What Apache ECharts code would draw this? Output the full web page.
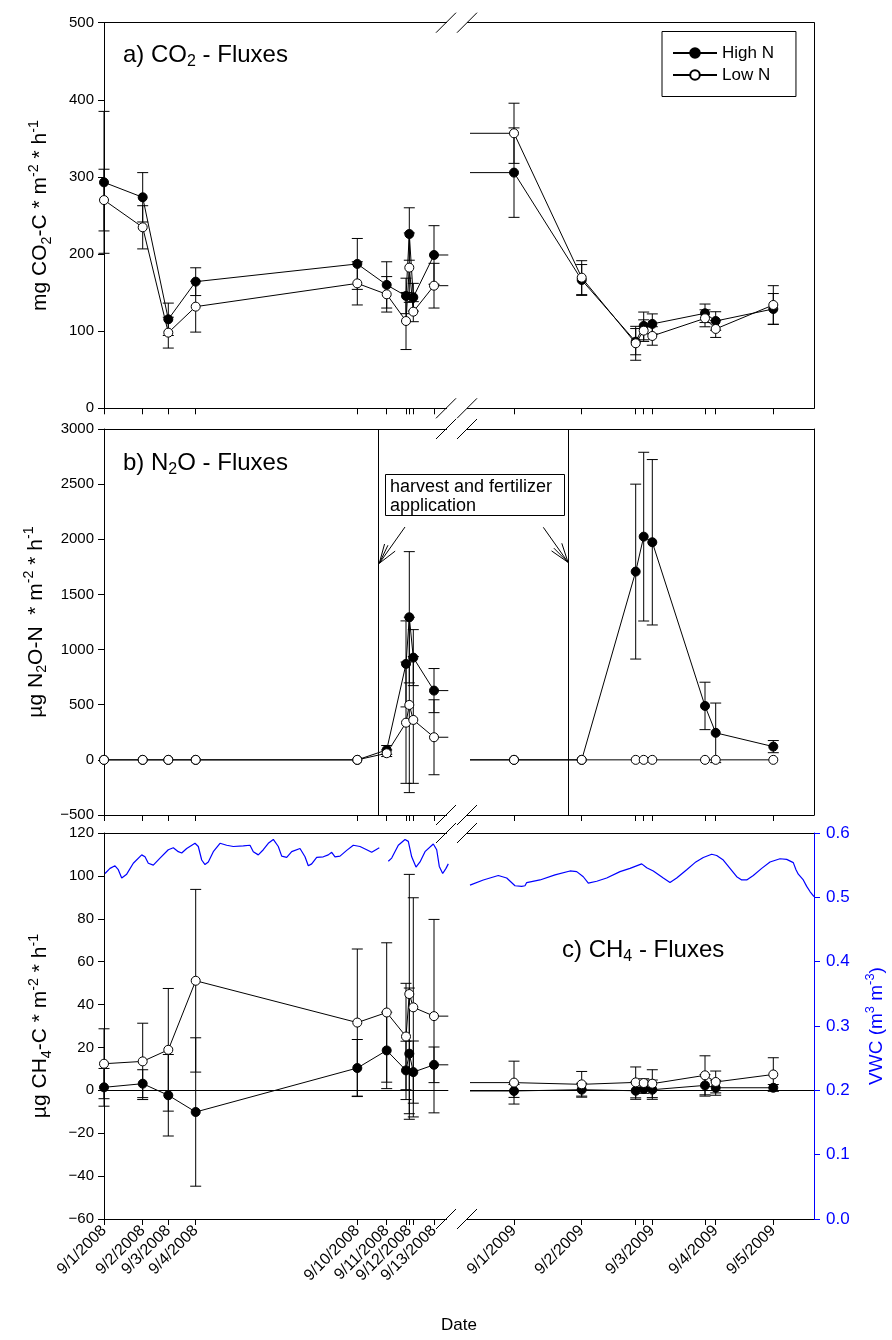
<!DOCTYPE html>
<html>
<head>
<meta charset="utf-8">
<script src="https://cdn.jsdelivr.net/npm/echarts@6/dist/echarts.min.js"></script>
<style>
  html, body { margin: 0; padding: 0; background: #fff; }
  #chart { width: 892px; height: 1340px; }
</style>
</head>
<body>
<div id="chart"></div>
<script>
// x positions on the (broken) date axis, 2008 block and 2009 block
const pos2008 = [0, 38.7, 64.3, 91.7, 253.3, 282.7, 302, 305.3, 309.3, 330];
const pos2009 = [410, 477.7, 531.7, 539.7, 548.3, 601, 611.7, 669.3];
const breakLeft = 344.3;   // where the 2008 block is cut
const breakRight = 366;    // where the 2009 block starts
const dateLabels = ['9/1/2008', '9/2/2008', '9/3/2008', '9/4/2008', '9/10/2008', '9/11/2008', '9/12/2008', '9/13/2008',
                    '9/1/2009', '9/2/2009', '9/3/2009', '9/4/2009', '9/5/2009'];
const labelPos = [0, 38.7, 64.3, 91.7, 253.3, 282.7, 305.3, 330, 410, 477.7, 548.3, 611.7, 669.3];
const harvestPos = [274.7, 464.7];

// a) CO2
const co2High2008 = [293, 273.6, 115.4, 164.2, 187.2, 160, 145.7, 226, 144, 198.8];
const co2HighErr2008 = [92, 32, 21, 18, 33, 30, 23, 34, 18, 38];
const co2Low2008 = [270, 234.7, 98.1, 131.8, 162, 147.8, 113.2, 182.4, 125.3, 159];
const co2LowErr2008 = [40, 28, 20, 33, 28, 23, 37, 45, 13, 29];
const co2High2009 = [305.6, 166.4, 86.4, 106.8, 109.4, 123.2, 113.2, 128.8];
const co2HighErr2009 = [58, 20, 17, 18, 13, 12, 12, 20];
const co2Low2009 = [356.6, 169.4, 84.3, 100.7, 93.8, 116.7, 102.9, 134];
const co2LowErr2009 = [39, 22, 22, 14, 12, 11, 11, 25];

// b) N2O
const n2oHigh2008 = [0, 0, 0, 0, 0, 90, 870, 1293, 927, 628];
const n2oHighErr2008 = [0, 0, 0, 0, 0, 40, 390, 595, 254, 200];
const n2oLow2008 = [0, 0, 0, 0, 0, 60, 337, 498, 362, 205];
const n2oLowErr2008 = [0, 0, 0, 0, 0, 30, 550, 795, 575, 340];
const n2oHigh2009 = [0, 0, 1707, 2024, 1973, 489, 245, 120];
const n2oHighErr2009 = [0, 0, 793, 765, 750, 215, 270, 55];
const n2oLow2009 = [0, 0, 0, 0, 0, 0, 0, 0];
const n2oLowErr2009 = [0, 0, 0, 0, 0, 0, 0, 0];

// c) CH4
const ch4High2008 = [1.4, 3.1, -2.3, -10.1, 10.4, 18.6, 9.3, 17.1, 8.5, 11.9];
const ch4HighErr2008 = [8.8, 6.5, 19, 34.6, 13.3, 17.8, 13.6, 30.6, 14.5, 8.3];
const ch4Low2008 = [12.4, 13.5, 18.9, 51.1, 31.6, 36.3, 25.1, 44.9, 38.7, 34.6];
const ch4LowErr2008 = [16.3, 17.8, 28.6, 42.6, 34.3, 32.5, 24.8, 55.8, 51.1, 45.1];
const ch4High2009 = [-0.3, 0.3, -0.2, 0.6, 0.3, 2.3, 1.2, 1.2];
const ch4HighErr2009 = [3, 3, 4, 2, 4.5, 5, 3.5, 1.5];
const ch4Low2009 = [3.6, 2.8, 3.7, 3.4, 3.1, 7, 3.9, 7.4];
const ch4LowErr2009 = [10, 6, 7.2, 2, 6.5, 9.1, 5.1, 7.8];

// soil water content (right axis of panel c)
const vwcPos2008a = [1, 6, 11, 14.3, 17.7, 22.7, 29.3, 37.7, 41, 44.3, 49.3, 56, 64.3, 69.3, 74.3, 77.7, 82.7, 91, 94.3, 97.7,
  101, 104.3, 109.3, 116, 122.7, 129.3, 139.3, 146, 149.3, 154.3, 159.3, 164.3, 169.3, 174.3, 177.7, 182.7, 187.7, 196, 201,
  204.3, 207.7, 212.7, 219.3, 224.3, 227.7, 231, 236, 242.7, 249.3, 256, 262.7, 267.7, 275.3];
const vwc2008a = [0.537, 0.545, 0.549, 0.543, 0.530, 0.536, 0.553, 0.566, 0.563, 0.553, 0.550, 0.561, 0.574, 0.577, 0.571,
  0.569, 0.576, 0.584, 0.579, 0.558, 0.551, 0.555, 0.571, 0.584, 0.581, 0.579, 0.580, 0.581, 0.571, 0.566, 0.574, 0.584,
  0.590, 0.579, 0.564, 0.562, 0.571, 0.576, 0.563, 0.549, 0.552, 0.562, 0.563, 0.566, 0.570, 0.563, 0.564, 0.573, 0.581,
  0.579, 0.574, 0.570, 0.577];
const vwcPos2008b = [284.3, 287.7, 294.3, 301, 304.3, 307.7, 312, 316, 321, 329.3, 332.7, 335.3, 338.7, 342, 344.3];
const vwc2008b = [0.556, 0.561, 0.581, 0.590, 0.587, 0.563, 0.547, 0.555, 0.571, 0.583, 0.574, 0.548, 0.537, 0.545, 0.552];
const vwcPos2009 = [366, 379.3, 394.3, 402.7, 411, 417.7, 421, 422.7, 436, 451, 466, 472.7, 479.3, 484.3, 492.7, 502.7, 516,
  526, 537.7, 542.7, 549.3, 559.3, 566, 572.7, 582.7, 591, 599.3, 607.7, 612.7, 619.3, 626, 632.7, 637.7, 642.7, 649.3,
  657.7, 666, 676, 682.7, 689.3, 692, 694.3, 699.3, 702.7, 706, 710];
const vwc2009 = [0.519, 0.527, 0.534, 0.530, 0.518, 0.517, 0.518, 0.523, 0.527, 0.535, 0.541, 0.540, 0.532, 0.522, 0.525,
  0.530, 0.540, 0.545, 0.552, 0.546, 0.541, 0.530, 0.523, 0.530, 0.543, 0.554, 0.562, 0.567, 0.565, 0.558, 0.545, 0.532,
  0.527, 0.527, 0.534, 0.545, 0.555, 0.560, 0.559, 0.554, 0.543, 0.536, 0.527, 0.517, 0.509, 0.501];

const F = '"Liberation Sans", Arial, sans-serif';
const tickPos = pos2008.concat(pos2009);
const X_MAX = 710;

const chart = echarts.init(document.getElementById('chart'));

const pts = (pos, vals) => pos.map((p, i) => [p, vals[i]]);
const errs = (pos, vals, err) => pos.map((p, i) => [p, vals[i], err[i]]).filter(d => d[2] > 0);
const minus = v => (v < 0 ? '\u2212' + String(-v) : String(v));

function errBar(params, api) {
  const x = api.value(0), y = api.value(1), e = api.value(2);
  const a = api.coord([x, y + e]), b = api.coord([x, y - e]);
  const w = 5.5;
  const st = { stroke: '#000', lineWidth: 1 };
  return {
    type: 'group',
    children: [
      { type: 'line', shape: { x1: a[0], y1: a[1], x2: b[0], y2: b[1] }, style: st },
      { type: 'line', shape: { x1: a[0] - w, y1: a[1], x2: a[0] + w, y2: a[1] }, style: st },
      { type: 'line', shape: { x1: b[0] - w, y1: b[1], x2: b[0] + w, y2: b[1] }, style: st }
    ]
  };
}

const nameRich = (color, fs) => ({
  n: { fontSize: fs, fontFamily: F, color: color, lineHeight: fs + 6, verticalAlign: 'middle' },
  sub: { fontSize: fs * 0.68, fontFamily: F, color: color, lineHeight: fs * 0.68, verticalAlign: 'bottom' },
  sup: { fontSize: fs * 0.68, fontFamily: F, color: color, lineHeight: fs * 0.68, verticalAlign: 'top' }
});

const gridBase = { left: 104, right: 78, containLabel: false, outerBoundsMode: 'none' };
const grids = [
  Object.assign({ top: 22.7, height: 385.6 }, gridBase),
  Object.assign({ top: 429, height: 386 }, gridBase),
  Object.assign({ top: 833, height: 386 }, gridBase)
];

const xAxes = [];
for (let i = 0; i < 3; i++) {
  xAxes.push({
    type: 'value', gridIndex: i, min: 0, max: X_MAX, position: 'bottom',
    axisLine: { show: true, onZero: false, lineStyle: { color: '#000', width: 1 } },
    axisTick: { show: true, customValues: tickPos, length: 6, lineStyle: { color: '#000' } },
    axisLabel: i === 2 ? {
      show: true, customValues: labelPos, rotate: 45, fontSize: 16, fontFamily: F, color: '#000', margin: 9,
      formatter: v => {
        const k = labelPos.findIndex(p => Math.abs(p - v) < 0.01);
        return k >= 0 ? dateLabels[k] : '';
      }
    } : { show: false },
    splitLine: { show: false },
    name: i === 2 ? 'Date' : '', nameLocation: 'middle', nameGap: 98,
    nameTextStyle: { fontSize: 17, fontFamily: F, color: '#000' }
  });
  xAxes.push({
    type: 'value', gridIndex: i, min: 0, max: X_MAX, position: 'top',
    axisLine: { show: true, onZero: false, lineStyle: { color: '#000', width: 1 } },
    axisTick: { show: false }, axisLabel: { show: false }, splitLine: { show: false }
  });
}

const leftAxis = (i, min, max, interval, name) => ({
  type: 'value', gridIndex: i, min: min, max: max, interval: interval, position: 'left',
  axisLine: { show: true, onZero: false, lineStyle: { color: '#000', width: 1 } },
  axisTick: { show: true, length: 6, lineStyle: { color: '#000' } },
  axisLabel: { fontSize: 15, fontFamily: F, color: '#000', margin: 10, formatter: minus },
  splitLine: { show: false },
  name: name, nameLocation: 'middle', nameRotate: 90, nameGap: 50,
  nameTextStyle: { rich: nameRich('#000', 21) }
});
const rightFrame = (i, min, max) => ({
  type: 'value', gridIndex: i, min: min, max: max, position: 'right',
  axisLine: { show: true, onZero: false, lineStyle: { color: '#000', width: 1 } },
  axisTick: { show: false }, axisLabel: { show: false }, splitLine: { show: false }
});

const yAxes = [
  leftAxis(0, 0, 500, 100, '{n|mg CO}{sub|2}{n|-C * m}{sup|-2}{n| * h}{sup|-1}'),
  rightFrame(0, 0, 500),
  leftAxis(1, -500, 3000, 500, '{n|µg N}{sub|2}{n|O-N  * m}{sup|-2}{n| * h}{sup|-1}'),
  rightFrame(1, -500, 3000),
  leftAxis(2, -60, 120, 20, '{n|µg CH}{sub|4}{n|-C * m}{sup|-2}{n| * h}{sup|-1}'),
  {
    type: 'value', gridIndex: 2, min: 0, max: 0.6, interval: 0.1, position: 'right',
    axisLine: { show: true, onZero: false, lineStyle: { color: '#0000ff', width: 1 } },
    axisTick: { show: true, length: 6, lineStyle: { color: '#0000ff' } },
    axisLabel: { fontSize: 17, fontFamily: F, color: '#0000ff', margin: 12, formatter: v => v.toFixed(1) },
    splitLine: { show: false },
    name: '{n|VWC (m}{sup|3}{n| m}{sup|-3}{n|)}', nameLocation: 'middle', nameRotate: 90, nameGap: 50,
    nameTextStyle: { rich: nameRich('#0000ff', 19) }
  }
];

const highStyle = {
  type: 'line', name: 'High N', symbol: 'circle', symbolSize: 9, showAllSymbol: true,
  lineStyle: { color: '#000', width: 1 }, itemStyle: { color: '#000', borderColor: '#000', borderWidth: 1 },
  z: 3, animation: false
};
const lowStyle = {
  type: 'line', name: 'Low N', symbol: 'circle', symbolSize: 9, showAllSymbol: true,
  lineStyle: { color: '#000', width: 1 }, itemStyle: { color: '#fff', borderColor: '#000', borderWidth: 1 },
  z: 4, animation: false
};
const zeroLine = (from, to) => ({
  silent: true, symbol: ['none', 'none'], label: { show: false },
  lineStyle: { color: '#000', width: 1, type: 'solid' },
  data: [[{ coord: [from, 0] }, { coord: [to, 0] }]]
});

const series = [];
const panels = [
  { hi8: co2High2008, he8: co2HighErr2008, lo8: co2Low2008, le8: co2LowErr2008,
    hi9: co2High2009, he9: co2HighErr2009, lo9: co2Low2009, le9: co2LowErr2009 },
  { hi8: n2oHigh2008, he8: n2oHighErr2008, lo8: n2oLow2008, le8: n2oLowErr2008,
    hi9: n2oHigh2009, he9: n2oHighErr2009, lo9: n2oLow2009, le9: n2oLowErr2009 },
  { hi8: ch4High2008, he8: ch4HighErr2008, lo8: ch4Low2008, le8: ch4LowErr2008,
    hi9: ch4High2009, he9: ch4HighErr2009, lo9: ch4Low2009, le9: ch4LowErr2009 }
];

panels.forEach((p, i) => {
  const ax = { xAxisIndex: i * 2, yAxisIndex: i * 2 };
  series.push(Object.assign({
    type: 'custom', name: 'err', renderItem: errBar, z: 2, silent: true, animation: false,
    encode: { x: 0, y: 1 },
    data: errs(pos2008, p.hi8, p.he8).concat(errs(pos2008, p.lo8, p.le8),
      errs(pos2009, p.hi9, p.he9), errs(pos2009, p.lo9, p.le9))
  }, ax));
  const last = a => a[a.length - 1];
  series.push(Object.assign({}, highStyle, ax, {
    data: pts(pos2008, p.hi8).concat([{ value: [breakLeft, last(p.hi8)], symbol: 'none' }]),
    markLine: i === 2 ? zeroLine(0, breakLeft) : (i === 1 ? {
      silent: true, symbol: ['none', 'none'], label: { show: false },
      lineStyle: { color: '#000', width: 1, type: 'solid' },
      data: harvestPos.map(h => ({ xAxis: h }))
    } : undefined)
  }));
  series.push(Object.assign({}, highStyle, ax, {
    data: [{ value: [breakRight, p.hi9[0]], symbol: 'none' }].concat(pts(pos2009, p.hi9)),
    markLine: i === 2 ? zeroLine(breakRight, X_MAX) : undefined
  }));
  series.push(Object.assign({}, lowStyle, ax, {
    data: pts(pos2008, p.lo8).concat([{ value: [breakLeft, last(p.lo8)], symbol: 'none' }])
  }));
  series.push(Object.assign({}, lowStyle, ax, {
    data: [{ value: [breakRight, p.lo9[0]], symbol: 'none' }].concat(pts(pos2009, p.lo9))
  }));
});

[[vwcPos2008a, vwc2008a], [vwcPos2008b, vwc2008b], [vwcPos2009, vwc2009]].forEach(([ps, vs]) => {
  series.push({
    type: 'line', name: 'VWC', xAxisIndex: 4, yAxisIndex: 5, data: pts(ps, vs),
    symbol: 'none', lineStyle: { color: '#0000ff', width: 1.2 }, z: 1, animation: false
  });
});

// annotation graphics: panel titles, harvest box, arrows, axis breaks
const titleRich = {
  n: { fontSize: 24, fontFamily: F, fill: '#000', lineHeight: 30, verticalAlign: 'middle' },
  sub: { fontSize: 16, fontFamily: F, fill: '#000', lineHeight: 16, verticalAlign: 'bottom' }
};
const graphics = [
  { type: 'text', x: 123, y: 55, z: 100, style: { text: '{n|a) CO}{sub|2}{n| - Fluxes}', rich: titleRich, verticalAlign: 'middle' } },
  { type: 'text', x: 123, y: 463, z: 100, style: { text: '{n|b) N}{sub|2}{n|O - Fluxes}', rich: titleRich, verticalAlign: 'middle' } },
  { type: 'text', x: 562, y: 950, z: 100, style: { text: '{n|c) CH}{sub|4}{n| - Fluxes}', rich: titleRich, verticalAlign: 'middle' } },
  { type: 'rect', z: 100, shape: { x: 385.5, y: 474.5, width: 179, height: 41 }, style: { fill: '#fff', stroke: '#000', lineWidth: 1 } },
  { type: 'text', x: 390, y: 487, z: 101, style: { text: 'harvest and fertilizer', font: '18px ' + F, fill: '#000', verticalAlign: 'middle' } },
  { type: 'text', x: 390, y: 506, z: 101, style: { text: 'application', font: '18px ' + F, fill: '#000', verticalAlign: 'middle' } }
];
function arrow(tail, tip) {
  const dx = tail[0] - tip[0], dy = tail[1] - tip[1];
  const len = Math.hypot(dx, dy), ux = dx / len, uy = dy / len;
  const st = { stroke: '#000', lineWidth: 1 };
  graphics.push({ type: 'line', z: 100, shape: { x1: tail[0], y1: tail[1], x2: tip[0], y2: tip[1] }, style: st });
  [-0.35, -0.17, 0.3].forEach(t => {
    const c = Math.cos(t), s = Math.sin(t), L = 20;
    graphics.push({ type: 'line', z: 100, style: st,
      shape: { x1: tip[0], y1: tip[1], x2: tip[0] + L * (ux * c - uy * s), y2: tip[1] + L * (ux * s + uy * c) } });
  });
}
arrow([405, 527], [379.3, 563.3]);
arrow([543.3, 527.3], [568, 562.3]);

[22.7, 408.3, 429, 815, 833, 1219].forEach(y => {
  graphics.push({ type: 'rect', z: 100, shape: { x: 447, y: y - 2, width: 20, height: 4 }, style: { fill: '#fff' } });
  [446, 467].forEach(cx => {
    graphics.push({ type: 'line', z: 101, shape: { x1: cx - 10, y1: y + 10, x2: cx + 10, y2: y - 10 },
      style: { stroke: '#000', lineWidth: 1 } });
  });
});

chart.setOption({
  backgroundColor: '#fff',
  animation: false,
  grid: grids,
  xAxis: xAxes,
  yAxis: yAxes,
  legend: {
    data: ['High N', 'Low N'], orient: 'vertical', left: 662, top: 31.5,
    borderColor: '#000', borderWidth: 1, borderRadius: 0, padding: [11.5, 22, 11.5, 10], itemGap: 2,
    itemWidth: 44, itemHeight: 12, selectedMode: false,
    textStyle: { fontSize: 17, fontFamily: F, color: '#000', lineHeight: 20 }
  },
  series: series,
  graphic: graphics
});
</script>
</body>
</html>
